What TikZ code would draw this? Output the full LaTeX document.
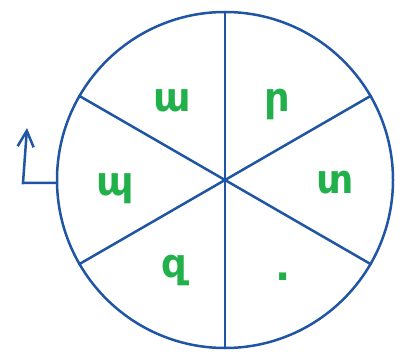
\documentclass[tikz,border=0pt]{standalone}
\usepackage{fontspec}
\usepackage{xcolor}
\usetikzlibrary{arrows.meta}
\newfontfamily\armfont{DejaVu Sans}
\definecolor{wheelblue}{HTML}{1F55A3}
\definecolor{lettergreen}{HTML}{22B04B}

\begin{document}
\begin{tikzpicture}[
  x=1pt,
  y=-1pt,
  rim/.style={wheelblue, line width=2.5pt},
  spoke/.style={wheelblue, line width=2.5pt},
  letter/.style={lettergreen, anchor=base, inner sep=0pt,
                 font=\armfont\bfseries\fontsize{40}{40}\selectfont},
  turn/.style={wheelblue, line width=2.5pt,
               -{Straight Barb[length=16pt, width=16pt, line width=2.5pt]}}
]
  \useasboundingbox (0,0) rectangle (406,358);

  %% ---- the wheel ------------------------------------------------------
  \node[circle, draw, rim, minimum size=336pt, inner sep=0pt] (wheel) at (225,180) {};

  %% ---- six spokes -----------------------------------------------------
  \foreach \a/\b in {90/270, 30/210, 150/330}
    \draw[spoke] (wheel.\a) -- (wheel.\b);

  %% ---- letters, one in each sector ------------------------------------
  \node[letter] (ayb) at (172,112) {ա};
  \node[letter] (reh) at (277,112) {ր};
  \node[letter] (tiwn) at (335,193) {տ};
  \node[letter] (stop) at (283,280) {.};
  \node[letter] (za) at (174,277) {զ};
  \node[letter] (peh) at (115,195) {պ};

  %% ---- turning arrow on the left --------------------------------------
  \coordinate (bend) at (23,183);
  \coordinate (tip) at (27,128);
  \draw[turn] (wheel.181) -- (bend) -- (tip);

\end{tikzpicture}
\end{document}
